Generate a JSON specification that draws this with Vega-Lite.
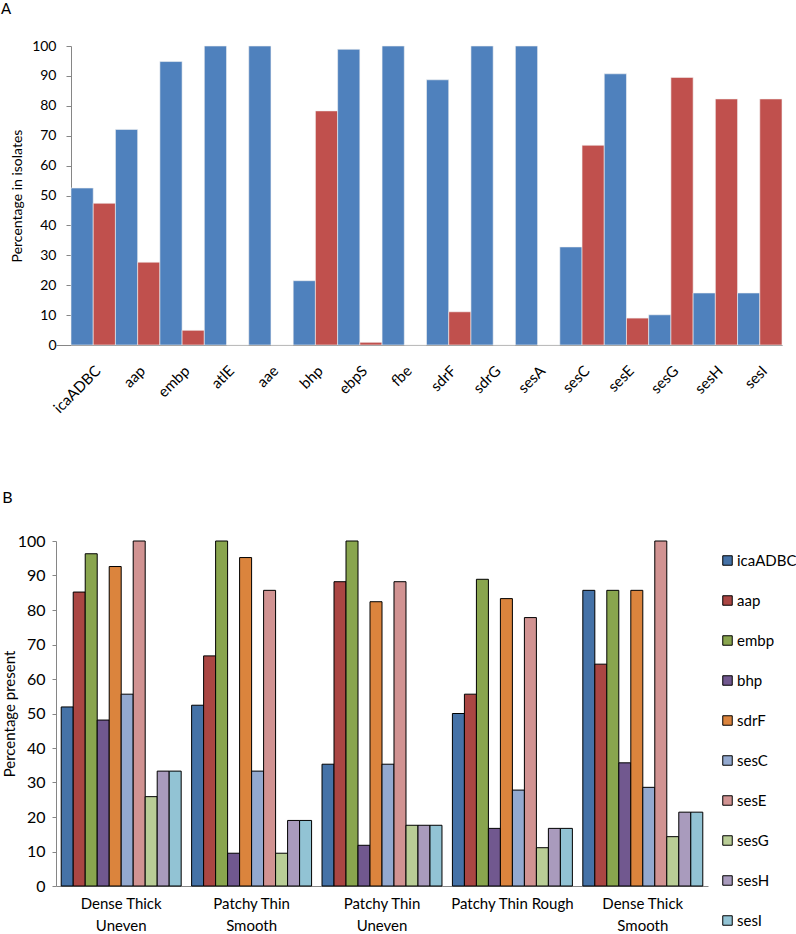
{
  "$schema": "https://vega.github.io/schema/vega-lite/v6.json",
  "background": "white",
  "padding": {"left": 1, "top": 2, "right": 0, "bottom": 0},
  "config": {
    "font": "Lato",
    "view": {"stroke": null},
    "axis": {"grid": false, "domainColor": "#868686", "tickColor": "#868686", "labelColor": "#000000", "titleColor": "#000000", "labelFont": "Lato", "titleFont": "Lato", "titleFontWeight": "normal"},
    "title": {"font": "Lato", "fontWeight": "normal", "color": "#000000"}
  },
  "datasets": {
    "genes": [
      {"gene": "icaADBC", "series": "Series 1", "value": 52.5},
      {"gene": "icaADBC", "series": "Series 2", "value": 47.4},
      {"gene": "aap", "series": "Series 1", "value": 72.1},
      {"gene": "aap", "series": "Series 2", "value": 27.7},
      {"gene": "embp", "series": "Series 1", "value": 94.8},
      {"gene": "embp", "series": "Series 2", "value": 4.9},
      {"gene": "atlE", "series": "Series 1", "value": 100},
      {"gene": "atlE", "series": "Series 2", "value": 0},
      {"gene": "aae", "series": "Series 1", "value": 100},
      {"gene": "aae", "series": "Series 2", "value": 0},
      {"gene": "bhp", "series": "Series 1", "value": 21.5},
      {"gene": "bhp", "series": "Series 2", "value": 78.3},
      {"gene": "ebpS", "series": "Series 1", "value": 98.9},
      {"gene": "ebpS", "series": "Series 2", "value": 0.9},
      {"gene": "fbe", "series": "Series 1", "value": 100},
      {"gene": "fbe", "series": "Series 2", "value": 0},
      {"gene": "sdrF", "series": "Series 1", "value": 88.7},
      {"gene": "sdrF", "series": "Series 2", "value": 11.1},
      {"gene": "sdrG", "series": "Series 1", "value": 100},
      {"gene": "sdrG", "series": "Series 2", "value": 0},
      {"gene": "sesA", "series": "Series 1", "value": 100},
      {"gene": "sesA", "series": "Series 2", "value": 0},
      {"gene": "sesC", "series": "Series 1", "value": 32.8},
      {"gene": "sesC", "series": "Series 2", "value": 66.8},
      {"gene": "sesE", "series": "Series 1", "value": 90.7},
      {"gene": "sesE", "series": "Series 2", "value": 9.0},
      {"gene": "sesG", "series": "Series 1", "value": 10.1},
      {"gene": "sesG", "series": "Series 2", "value": 89.5},
      {"gene": "sesH", "series": "Series 1", "value": 17.4},
      {"gene": "sesH", "series": "Series 2", "value": 82.3},
      {"gene": "sesI", "series": "Series 1", "value": 17.4},
      {"gene": "sesI", "series": "Series 2", "value": 82.3}
    ],
    "biofilm": [
      {"type": "Dense Thick Uneven", "gene": "icaADBC", "value": 51.9},
      {"type": "Dense Thick Uneven", "gene": "aap", "value": 85.2},
      {"type": "Dense Thick Uneven", "gene": "embp", "value": 96.3},
      {"type": "Dense Thick Uneven", "gene": "bhp", "value": 48.1},
      {"type": "Dense Thick Uneven", "gene": "sdrF", "value": 92.6},
      {"type": "Dense Thick Uneven", "gene": "sesC", "value": 55.6},
      {"type": "Dense Thick Uneven", "gene": "sesE", "value": 100},
      {"type": "Dense Thick Uneven", "gene": "sesG", "value": 25.9},
      {"type": "Dense Thick Uneven", "gene": "sesH", "value": 33.3},
      {"type": "Dense Thick Uneven", "gene": "sesI", "value": 33.3},
      {"type": "Patchy Thin Smooth", "gene": "icaADBC", "value": 52.4},
      {"type": "Patchy Thin Smooth", "gene": "aap", "value": 66.7},
      {"type": "Patchy Thin Smooth", "gene": "embp", "value": 100},
      {"type": "Patchy Thin Smooth", "gene": "bhp", "value": 9.5},
      {"type": "Patchy Thin Smooth", "gene": "sdrF", "value": 95.2},
      {"type": "Patchy Thin Smooth", "gene": "sesC", "value": 33.3},
      {"type": "Patchy Thin Smooth", "gene": "sesE", "value": 85.7},
      {"type": "Patchy Thin Smooth", "gene": "sesG", "value": 9.5},
      {"type": "Patchy Thin Smooth", "gene": "sesH", "value": 19.0},
      {"type": "Patchy Thin Smooth", "gene": "sesI", "value": 19.0},
      {"type": "Patchy Thin Uneven", "gene": "icaADBC", "value": 35.3},
      {"type": "Patchy Thin Uneven", "gene": "aap", "value": 88.2},
      {"type": "Patchy Thin Uneven", "gene": "embp", "value": 100},
      {"type": "Patchy Thin Uneven", "gene": "bhp", "value": 11.8},
      {"type": "Patchy Thin Uneven", "gene": "sdrF", "value": 82.4},
      {"type": "Patchy Thin Uneven", "gene": "sesC", "value": 35.3},
      {"type": "Patchy Thin Uneven", "gene": "sesE", "value": 88.2},
      {"type": "Patchy Thin Uneven", "gene": "sesG", "value": 17.6},
      {"type": "Patchy Thin Uneven", "gene": "sesH", "value": 17.6},
      {"type": "Patchy Thin Uneven", "gene": "sesI", "value": 17.6},
      {"type": "Patchy Thin Rough", "gene": "icaADBC", "value": 50.0},
      {"type": "Patchy Thin Rough", "gene": "aap", "value": 55.6},
      {"type": "Patchy Thin Rough", "gene": "embp", "value": 88.9},
      {"type": "Patchy Thin Rough", "gene": "bhp", "value": 16.7},
      {"type": "Patchy Thin Rough", "gene": "sdrF", "value": 83.3},
      {"type": "Patchy Thin Rough", "gene": "sesC", "value": 27.8},
      {"type": "Patchy Thin Rough", "gene": "sesE", "value": 77.8},
      {"type": "Patchy Thin Rough", "gene": "sesG", "value": 11.1},
      {"type": "Patchy Thin Rough", "gene": "sesH", "value": 16.7},
      {"type": "Patchy Thin Rough", "gene": "sesI", "value": 16.7},
      {"type": "Dense Thick Smooth", "gene": "icaADBC", "value": 85.7},
      {"type": "Dense Thick Smooth", "gene": "aap", "value": 64.3},
      {"type": "Dense Thick Smooth", "gene": "embp", "value": 85.7},
      {"type": "Dense Thick Smooth", "gene": "bhp", "value": 35.7},
      {"type": "Dense Thick Smooth", "gene": "sdrF", "value": 85.7},
      {"type": "Dense Thick Smooth", "gene": "sesC", "value": 28.6},
      {"type": "Dense Thick Smooth", "gene": "sesE", "value": 100},
      {"type": "Dense Thick Smooth", "gene": "sesG", "value": 14.3},
      {"type": "Dense Thick Smooth", "gene": "sesH", "value": 21.4},
      {"type": "Dense Thick Smooth", "gene": "sesI", "value": 21.4}
    ]
  },
  "vconcat": [
    {
      "title": {"text": "A", "anchor": "start", "frame": "group", "dx": -55, "fontSize": 15, "offset": 22},
      "width": 726,
      "height": 299,
      "data": {"name": "genes"},
      "mark": {"type": "bar", "stroke": "#f2f2f2", "strokeWidth": 0.6},
      "encoding": {
        "x": {"field": "gene", "type": "nominal", "sort": null, "scale": {"paddingInner": 0, "paddingOuter": 0.1688, "align": 1},
          "axis": {"title": null, "labelAngle": -45, "labelFontSize": 15, "ticks": false, "labelPadding": 18, "domainColor": "#868686"}},
        "xOffset": {"field": "series", "type": "nominal", "scale": {"paddingInner": 0, "paddingOuter": 0}},
        "y": {"field": "value", "type": "quantitative", "scale": {"domain": [0, 100]},
          "axis": {"title": "Percentage in isolates", "offset": -15, "titleFontSize": 14, "labelFontSize": 14, "values": [0,10,20,30,40,50,60,70,80,90,100], "tickSize": 5, "labelPadding": 10, "titlePadding": 7}},
        "color": {"field": "series", "type": "nominal", "scale": {"range": ["#4F81BD", "#C0504D"]}, "legend": null}
      }
    },
    {
      "title": {"text": "B", "anchor": "start", "frame": "bounds", "fontSize": 16, "offset": 27},
      "width": 652,
      "height": 345,
      "data": {"name": "biofilm"},
      "mark": {"type": "bar", "stroke": "#000000", "strokeWidth": 1},
      "encoding": {
        "x": {"field": "type", "type": "nominal", "sort": null, "scale": {"paddingInner": 0.08, "paddingOuter": 0.04},
          "axis": {"title": null, "labelAngle": 0, "labelFontSize": 15, "ticks": false, "labelPadding": 10, "labelLineHeight": 22,
            "labelExpr": "datum.value == 'Patchy Thin Rough' ? datum.value : [substring(datum.value, 0, lastindexof(datum.value, ' ')), substring(datum.value, lastindexof(datum.value, ' ') + 1)]"}},
        "xOffset": {"field": "gene", "type": "nominal", "sort": null, "scale": {"paddingInner": 0, "paddingOuter": 0}},
        "y": {"field": "value", "type": "quantitative", "scale": {"domain": [0, 100]},
          "axis": {"title": "Percentage present", "titleFontSize": 15, "labelFontSize": 16, "values": [0,10,20,30,40,50,60,70,80,90,100], "tickSize": 4, "labelPadding": 7, "titlePadding": 0}},
        "color": {"field": "gene", "type": "nominal", "sort": null,
          "scale": {"domain": ["icaADBC", "aap", "embp", "bhp", "sdrF", "sesC", "sesE", "sesG", "sesH", "sesI"],
            "range": ["#4572A7", "#AA4643", "#89A54E", "#71588F", "#DB843D", "#93A9CF", "#D19392", "#B9CD96", "#A99BBD", "#92C3D4"]},
          "legend": {"title": null, "orient": "right", "offset": 0, "padding": 12, "symbolType": "square", "symbolSize": 90, "symbolStrokeColor": "#000000", "symbolStrokeWidth": 1, "labelFontSize": 15, "labelOffset": 2, "rowPadding": 24, "labelColor": "#000000"}}
      }
    }
  ],
  "spacing": 74,
  "resolve": {
    "scale": {"x": "independent", "y": "independent", "xOffset": "independent", "color": "independent"},
    "axis": {"x": "independent", "y": "independent"},
    "legend": {"color": "independent"}
  }
}
